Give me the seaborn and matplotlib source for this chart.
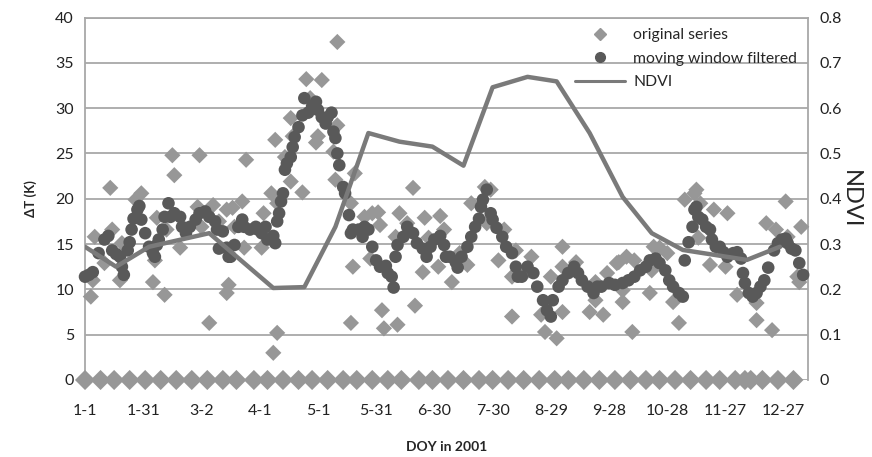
import numpy as np
import pandas as pd
import matplotlib
matplotlib.use("Agg")
import matplotlib.pyplot as plt
from matplotlib.lines import Line2D
import seaborn as sns

# ---------------------------------------------------------------------------
# Data
# ---------------------------------------------------------------------------

# original daily dT series: non-missing observations
orig_days = [4, 6, 5, 11, 14, 15, 19, 20, 27, 30, 36, 37, 38, 42, 43, 46, 47, 50,
             59, 60, 61, 65, 67, 70, 74, 74, 75, 77, 78, 82, 83, 84, 92, 93, 97,
             98, 99, 100, 100, 104, 107, 107, 108, 113, 115, 117, 120, 121, 123,
             129, 130, 131, 131, 138, 138, 139, 140, 145, 148, 149, 152, 153, 154,
             155, 161, 162, 163, 167, 170, 171, 175, 176, 178, 183, 184, 186, 190,
             194, 198, 200, 207, 208, 210, 214, 217, 221, 221, 223, 228, 231, 236,
             238, 241, 244, 247, 247, 247, 254, 261, 264, 264, 268, 270, 275, 276,
             278, 278, 280, 283, 284, 292, 293, 294, 297, 301, 304, 307, 310, 315,
             316, 317, 318, 323, 325, 331, 332, 337, 347, 347, 352, 355, 357, 362,
             363, 368, 369, 370]
orig_vals = [9.2, 15.8, 11.0, 12.9, 21.2, 16.6, 11.0, 15.1, 19.9, 20.6, 10.8, 13.2,
             17.9, 9.4, 16.6, 24.8, 22.6, 14.6, 19.1, 24.8, 16.9, 6.3, 19.3, 17.5,
             18.8, 9.6, 10.5, 19.0, 16.9, 19.7, 14.6, 24.3, 14.6, 18.4, 20.6, 3.0,
             26.5, 5.2, 19.5, 24.6, 21.9, 28.9, 26.9, 20.7, 33.2, 31.1, 26.2, 26.9,
             33.1, 25.2, 22.1, 37.3, 28.1, 19.5, 6.3, 12.5, 22.8, 18.0, 13.4, 18.4,
             18.5, 17.1, 7.7, 5.7, 15.8, 6.1, 18.4, 17.3, 21.2, 8.2, 11.9, 17.9,
             15.7, 12.5, 18.1, 16.6, 10.8, 14.0, 12.7, 19.5, 21.3, 17.3, 21.0, 13.2,
             16.6, 7.0, 11.4, 14.3, 11.8, 13.6, 7.2, 5.3, 11.4, 4.6, 14.7, 12.5,
             7.5, 13.0, 7.5, 8.8, 10.8, 7.2, 11.8, 12.9, 13.0, 9.9, 8.6, 13.6, 5.3,
             13.2, 9.6, 12.1, 14.7, 14.6, 14.0, 8.6, 6.3, 19.9, 20.6, 21.0, 15.7,
             19.5, 12.7, 18.8, 12.5, 18.4, 9.4, 8.5, 6.6, 17.3, 5.5, 16.6, 19.7,
             15.8, 11.4, 10.8, 16.9]

# days where the original series is missing (plotted as 0)
missing_days = [1, 9, 16, 24, 32, 40, 48, 56, 64, 72, 79, 88, 95, 103, 111, 118,
                126, 134, 141, 149, 157, 164, 173, 180, 188, 196, 204, 211, 219,
                227, 235, 243, 250, 258, 266, 274, 282, 290, 297, 305, 313, 321,
                328, 336, 341, 344, 350, 358, 366]
missing_vals = [0.0] * len(missing_days)

# moving-window filtered series
filt_days = [1, 3, 5, 8, 11, 13, 15, 17, 19, 20, 21, 23, 24, 25, 26, 28, 29, 30,
             32, 34, 36, 37, 38, 39, 41, 42, 44, 45, 47, 50, 51, 53, 55, 58, 60,
             63, 65, 68, 69, 70, 72, 74, 75, 76, 78, 80, 82, 83, 86, 89, 90, 92,
             94, 95, 98, 99, 100, 101, 102, 103, 104, 105, 107, 108, 109, 111, 113,
             114, 116, 118, 120, 121, 123, 125, 126, 128, 129, 130, 131, 132, 134,
             135, 137, 138, 139, 142, 144, 145, 147, 149, 151, 153, 156, 157, 159,
             160, 161, 162, 165, 167, 170, 172, 175, 177, 179, 181, 184, 186, 187,
             189, 192, 193, 195, 198, 200, 202, 204, 205, 206, 208, 210, 211, 213,
             216, 218, 221, 223, 224, 226, 229, 232, 234, 237, 239, 241, 242, 245,
             247, 250, 253, 255, 257, 260, 263, 265, 267, 271, 274, 278, 281, 284,
             287, 290, 292, 295, 297, 300, 302, 304, 307, 309, 310, 312, 314, 315,
             316, 317, 319, 321, 323, 324, 326, 328, 330, 332, 335, 337, 339, 340,
             341, 343, 345, 347, 349, 351, 353, 356, 358, 360, 362, 363, 365, 367,
             369, 371]
filt_vals = [11.4, 11.6, 11.9, 14.0, 15.5, 15.9, 14.3, 13.9, 13.6, 12.5, 11.6, 14.3,
             15.2, 16.6, 17.8, 18.8, 19.2, 17.7, 16.2, 14.7, 14.0, 13.6, 14.9, 15.5,
             16.6, 18.0, 19.5, 18.0, 18.4, 18.0, 16.9, 16.2, 16.9, 17.7, 18.4, 18.6,
             18.0, 17.5, 16.6, 14.5, 16.4, 14.6, 13.6, 13.6, 14.9, 16.9, 17.7, 16.9,
             16.6, 16.9, 16.6, 16.2, 16.9, 15.5, 15.9, 15.1, 17.5, 18.4, 19.7, 20.6,
             23.2, 23.9, 24.6, 25.7, 26.8, 27.9, 29.2, 31.1, 29.5, 30.2, 30.7, 29.8,
             29.0, 28.3, 29.0, 29.5, 27.4, 26.7, 25.0, 23.7, 21.3, 20.6, 18.2, 16.2,
             16.6, 16.6, 15.8, 16.9, 16.6, 14.7, 13.2, 12.5, 12.6, 11.8, 11.4, 10.2,
             13.6, 14.9, 15.8, 16.9, 16.2, 15.1, 14.5, 13.6, 14.7, 15.5, 15.9, 14.9,
             13.6, 13.6, 13.0, 12.4, 13.6, 14.7, 15.8, 16.9, 17.8, 19.1, 19.9, 21.0,
             18.4, 17.7, 16.8, 15.8, 14.7, 14.0, 12.5, 11.4, 11.4, 12.5, 11.8, 10.3,
             8.8, 7.7, 7.0, 8.8, 10.3, 11.0, 11.8, 12.5, 11.8, 11.0, 10.3, 9.6, 10.3,
             10.3, 10.7, 10.5, 10.7, 11.0, 11.4, 12.1, 12.5, 13.2, 13.4, 12.9, 12.1,
             11.0, 10.3, 9.6, 9.2, 13.2, 15.2, 16.9, 18.8, 19.1, 18.0, 17.7, 16.9,
             16.6, 15.5, 14.7, 14.7, 14.1, 13.6, 14.0, 14.1, 13.4, 11.8, 10.7, 9.6,
             9.2, 9.6, 10.3, 11.0, 12.4, 14.3, 15.1, 15.5, 15.6, 15.1, 14.5, 14.3,
             12.9, 11.6]

# NDVI composites
ndvi_days = [1, 17, 34, 65, 98, 114, 130, 147, 163, 180, 196, 211, 229, 244, 261,
             278, 293, 309, 342, 359]
ndvi_vals = [0.294, 0.250, 0.294, 0.324, 0.203, 0.205, 0.338, 0.545, 0.526, 0.515,
             0.473, 0.646, 0.669, 0.659, 0.545, 0.404, 0.324, 0.287, 0.265, 0.294]

tick_days = [1, 31, 61, 91, 121, 151, 181, 211, 241, 271, 301, 331, 361]
tick_labels = ["1-1", "1-31", "3-2", "4-1", "5-1", "5-31", "6-30", "7-30",
               "8-29", "9-28", "10-28", "11-27", "12-27"]

# ---------------------------------------------------------------------------
# Plot
# ---------------------------------------------------------------------------

sns.set_theme(style="white")
plt.rcParams["font.family"] = ["Lato", "DejaVu Sans"]

C_ORIG = "#979797"
C_FILT = "#595959"
C_NDVI = "#7a7a7a"
C_GRID = "#a8a8a8"

orig = pd.DataFrame({"day": orig_days, "dT": orig_vals})
miss = pd.DataFrame({"day": missing_days, "dT": missing_vals})
filt = pd.DataFrame({"day": filt_days, "dT": filt_vals})
ndvi = pd.DataFrame({"day": ndvi_days, "ndvi": ndvi_vals})

fig, ax = plt.subplots(figsize=(8.72, 4.57), dpi=100)
fig.subplots_adjust(left=0.0975, right=0.9266, top=0.9617, bottom=0.1685)

# missing days sit on the zero line, drawn a bit wider so they touch
sns.scatterplot(data=miss, x="day", y="dT", ax=ax, marker="D", s=105,
                color=C_ORIG, edgecolor="none", linewidth=0, clip_on=False,
                zorder=3, legend=False)
sns.scatterplot(data=orig, x="day", y="dT", ax=ax, marker="D", s=68,
                color=C_ORIG, edgecolor="none", linewidth=0, clip_on=False,
                zorder=3, legend=False)
sns.scatterplot(data=filt, x="day", y="dT", ax=ax, marker="o", s=82,
                color=C_FILT, edgecolor="none", linewidth=0, clip_on=False,
                zorder=4, legend=False)

ax.set_xlim(1, 373.5)
ax.set_ylim(0, 40)
ax.set_yticks(np.arange(0, 41, 5))
ax.set_xticks(tick_days)
ax.set_xticklabels(tick_labels)
ax.yaxis.grid(True, color=C_GRID, linewidth=1.3)
ax.set_axisbelow(True)
ax.tick_params(axis="both", length=0, labelsize=11.5, colors="#222222")
ax.tick_params(axis="x", pad=17)
ax.tick_params(axis="y", pad=8)
ax.set_xlabel("DOY in 2001", fontsize=10, fontweight="bold", labelpad=17)
ax.set_ylabel("ΔT (K)", fontsize=9.5, fontweight="bold", labelpad=13)
for side in ["left", "right", "top"]:
    ax.spines[side].set_color(C_GRID)
    ax.spines[side].set_linewidth(1.3)
ax.spines["bottom"].set_visible(False)

ax2 = ax.twinx()
sns.lineplot(data=ndvi, x="day", y="ndvi", ax=ax2, color=C_NDVI, linewidth=3.2,
             zorder=5, legend=False)
ax2.set_ylim(0, 0.8)
ax2.set_yticks(np.arange(0, 0.81, 0.1))
ax2.set_yticklabels(["0"] + [f"{v:.1f}" for v in np.arange(0.1, 0.81, 0.1)])
ax2.tick_params(axis="y", length=0, labelsize=11.5, colors="#222222", pad=8)
ax2.set_ylabel("NDVI", fontsize=17, rotation=270, labelpad=14)
ax2.set_xlabel("")
for side in ["left", "right", "top", "bottom"]:
    ax2.spines[side].set_visible(False)

handles = [
    Line2D([], [], marker="D", linestyle="none", color=C_ORIG, markersize=6.5),
    Line2D([], [], marker="o", linestyle="none", color=C_FILT, markersize=7),
    Line2D([], [], color=C_NDVI, linewidth=2.2),
]
labels = ["original series", "moving window filtered", "NDVI"]
ax2.legend(handles, labels, loc="upper right", bbox_to_anchor=(1.0, 1.0),
           frameon=False, fontsize=11.3, handlelength=3.2, handletextpad=0.5,
           labelspacing=0.6, borderaxespad=0.3)

fig.savefig("out.png", dpi=100)
